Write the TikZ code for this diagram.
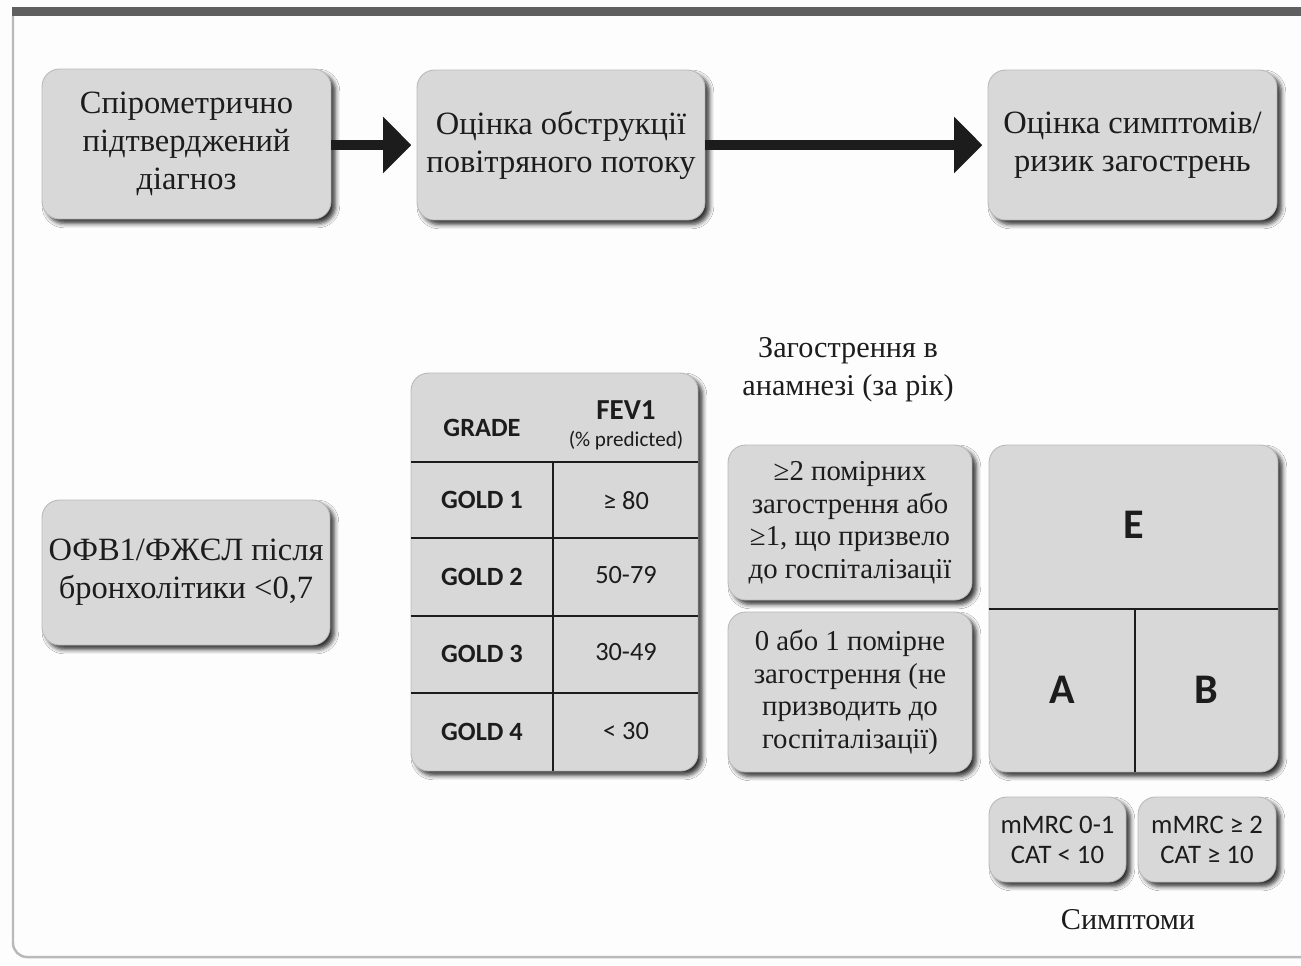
\documentclass[tikz,border=0pt]{standalone}
\usepackage{fontspec}
\setmainfont{Liberation Serif}
\newfontfamily\calfont{Carlito}
\usetikzlibrary{shadows.blur,arrows.meta}
\definecolor{boxfill}{RGB}{216,216,216}
\definecolor{barcol}{RGB}{95,95,95}
\definecolor{framecol}{RGB}{185,185,185}
\definecolor{inkcol}{RGB}{28,28,28}
\definecolor{bgcol}{RGB}{253,253,253}
\begin{document}
\begin{tikzpicture}[x=0.02cm,y=-0.02cm,
  box/.style={rounded corners=10pt, fill=boxfill, draw=gray!55, line width=0.5pt,
    blur shadow={shadow xshift=2.5pt, shadow yshift=-2.5pt, shadow opacity=80, shadow blur radius=2.5pt},
    text=inkcol, align=center, inner sep=0pt},
  serif/.style={font=\fontsize{18.5}{21.5}\selectfont},
  seriflabel/.style={font=\fontsize{17.2}{21.5}\selectfont},
  serifs/.style={font=\fontsize{16.4}{18.5}\selectfont},
  sansb/.style={font=\calfont\bfseries\fontsize{15}{18}\selectfont, text=inkcol},
  sansbh/.style={font=\calfont\bfseries\fontsize{16.5}{18}\selectfont, text=inkcol},
  sansr/.style={font=\calfont\fontsize{15}{18}\selectfont, text=inkcol},
  small/.style={font=\calfont\fontsize{12}{14}\selectfont, text=inkcol},
  big/.style={font=\calfont\bfseries\fontsize{24}{28}\selectfont, text=inkcol},
  mbox/.style={box, font=\calfont\fontsize{15.2}{17}\selectfont},
  conn/.style={line width=5.5pt, draw=inkcol, -{Triangle[length=16pt,width=31pt]}, shorten >=3pt},
  gridline/.style={line width=1.2pt, draw=inkcol}
]
\useasboundingbox (0,0) rectangle (1301,965);
\fill[bgcol] (0,0) rectangle (1301,965);
% frame
\fill[barcol] (12,7) rectangle (1301,16);
\draw[framecol, line width=1.4pt, rounded corners=8pt] (13,16) -- (13,957) -- (1301,957);

% top flow
\node[box, serif, minimum width=5.78cm, minimum height=3.0cm] (b1) at (186.5,144) {Спірометрично\\підтверджений\\діагноз};
\node[box, serif, minimum width=5.76cm, minimum height=3.0cm] (b2) at (561,145) {Оцінка обструкції\\повітряного потоку};
\node[box, serif, minimum width=5.78cm, minimum height=3.0cm] (b3) at (1132.5,145) {Оцінка симптомів/\\ризик загострень};
\draw[conn] (b1.east |- b2.west) -- (b2.west);
\draw[conn] (b2.east) -- (b3.west);

% left box
\node[box, serif, minimum width=5.76cm, minimum height=2.9cm] (b4) at (186,572.5) {ОФВ1/ФЖЄЛ після\\бронхолітики <0,7};

% table
\node[box, minimum width=5.74cm, minimum height=7.96cm] (tbl) at (554.5,572) {};
\draw[gridline] (tbl.west |- 0,462) -- (tbl.east |- 0,462);
\draw[gridline] (tbl.west |- 0,538) -- (tbl.east |- 0,538);
\draw[gridline] (tbl.west |- 0,616) -- (tbl.east |- 0,616);
\draw[gridline] (tbl.west |- 0,693) -- (tbl.east |- 0,693);
\draw[gridline] (553,462) -- (553,0 |- tbl.south);
\node[sansb] (hg) at (482,428) {GRADE};
\node[sansbh] (hf) at (626,410) {FEV1};
\node[small] (hp) at (626,440) {(\% predicted)};
\node[sansb] (g1) at (482,500) {GOLD 1};
\node[sansr] (v1) at (626,501) {≥ 80};
\node[sansb] (g2) at (482,577) {GOLD 2};
\node[sansr] (v2) at (626,575) {50-79};
\node[sansb] (g3) at (482,654) {GOLD 3};
\node[sansr] (v3) at (626,652) {30-49};
\node[sansb] (g4) at (482,732) {GOLD 4};
\node[sansr] (v4) at (626,731) {< 30};

% exacerbation history
\node[seriflabel, align=center, text=inkcol] (hist) at (848,370) {Загострення в\\анамнезі (за рік)};
\node[box, serifs, minimum width=4.88cm, minimum height=3.1cm] (ex2) at (850,522.5) {≥2 помірних\\загострення або\\≥1, що призвело\\до госпіталізації};
\node[box, serifs, minimum width=4.88cm, minimum height=3.2cm] (ex0) at (850,692) {0 або 1 помірне\\загострення (не\\призводить до\\госпіталізації)};

% E/A/B grid
\node[box, minimum width=5.78cm, minimum height=6.54cm] (grid) at (1133.5,608.5) {};
\draw[gridline] (grid.west |- 0,609) -- (grid.east |- 0,609);
\draw[gridline] (1135,609) -- (1135,0 |- grid.south);
\node[big] (E) at (1134,525) {E};
\node[big] (A) at (1062,690) {A};
\node[big] (B) at (1206,690) {B};

% symptoms
\node[mbox, minimum width=2.74cm, minimum height=1.7cm] (m1) at (1057.5,839.5) {mMRC 0-1\\CAT < 10};
\node[mbox, minimum width=2.76cm, minimum height=1.7cm] (m2) at (1207,839.5) {mMRC ≥ 2\\CAT ≥ 10};
\node[seriflabel, text=inkcol] (sym) at (1128,920) {Симптоми};
\end{tikzpicture}
\end{document}
